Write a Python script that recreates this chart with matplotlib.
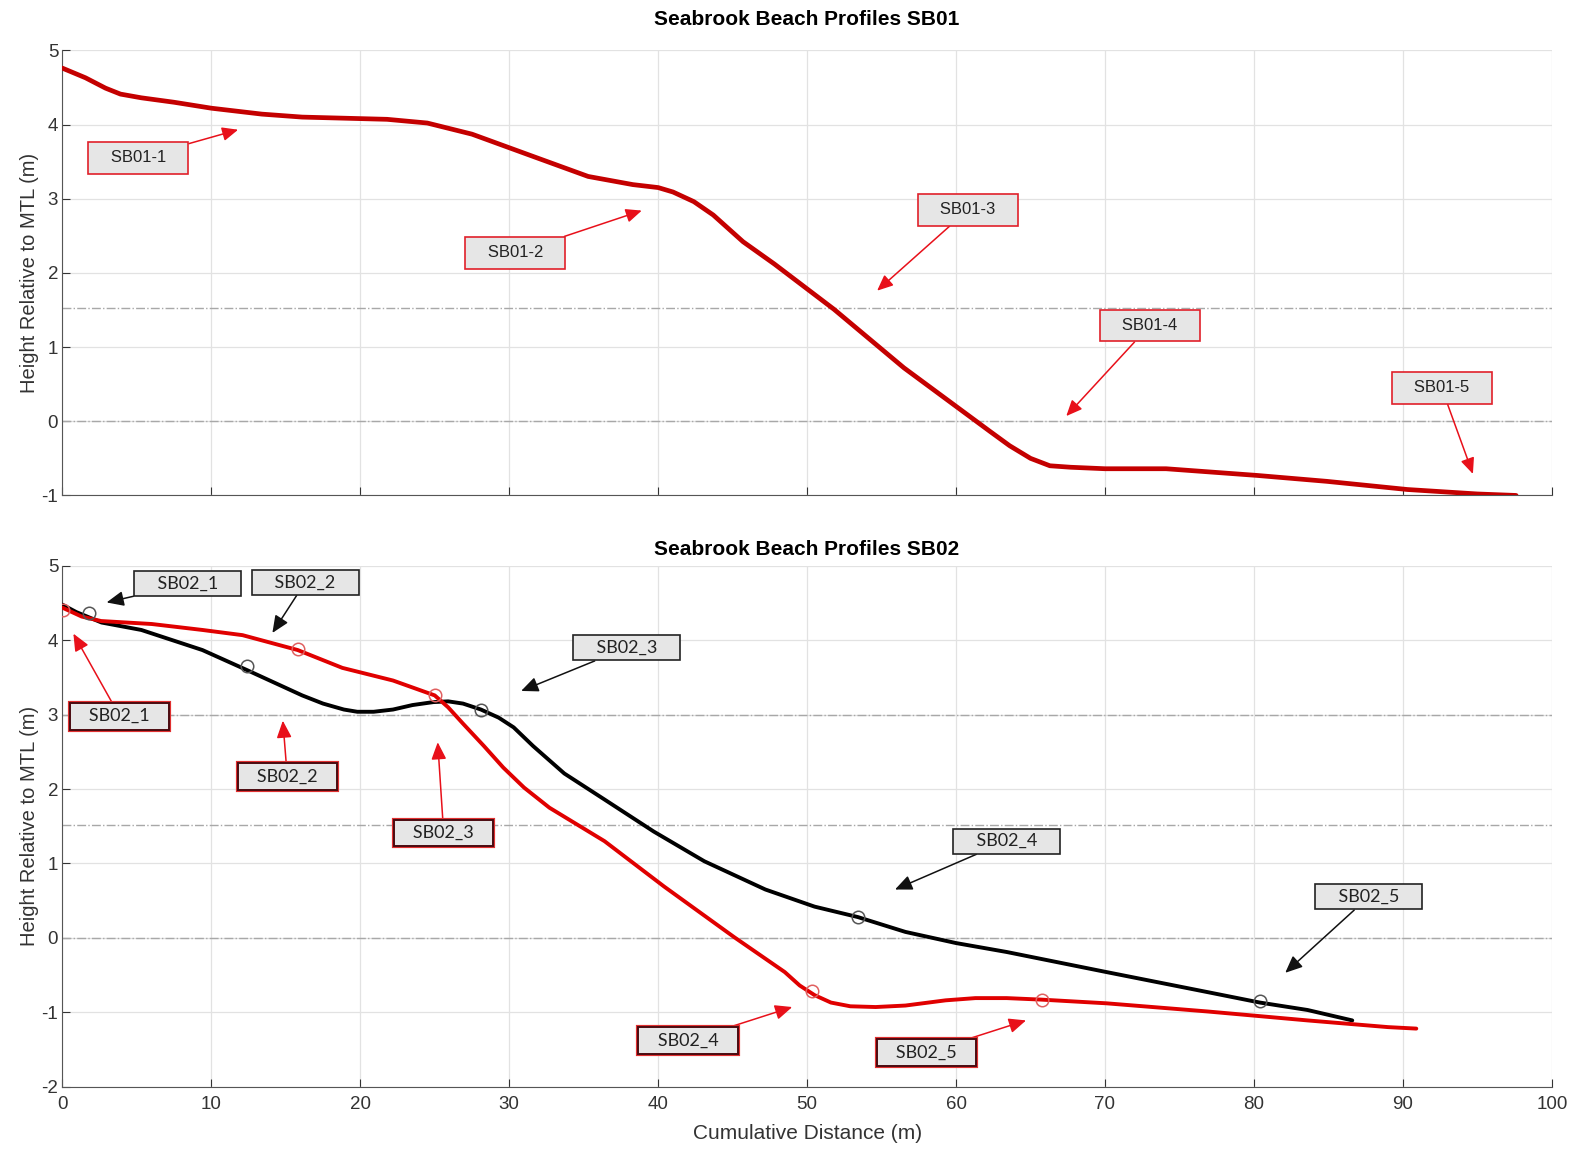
import matplotlib
matplotlib.use("Agg")
import matplotlib.pyplot as plt
import matplotlib.patheffects as pe

# --- SB01 profile (top panel) ---
sb01_x = [0, 1.55, 2.9, 3.9, 5.3, 7.5, 10, 13.4, 16.1, 21.8, 24.5, 27.5, 31.6, 35.3, 38.3, 40, 41,
          42.4, 43.7, 45.7, 47.8, 51.8, 56.5, 62.3, 63.6, 65.0, 66.3, 67.7, 70, 74.1, 80.2,
          84.9, 90.3, 95, 97.6]
sb01_y = [4.76, 4.63, 4.49, 4.41, 4.36, 4.30, 4.22, 4.14, 4.10, 4.07, 4.02, 3.87, 3.57, 3.30, 3.19,
          3.15, 3.09, 2.96, 2.78, 2.42, 2.12, 1.51, 0.72, -0.14, -0.33, -0.50, -0.60, -0.62, -0.64,
          -0.64, -0.73, -0.81, -0.92, -0.98, -1.0]

sb01_labels = ["SB01-1", "SB01-2", "SB01-3", "SB01-4", "SB01-5"]
sb01_box = [(5.1, 3.55), (30.4, 2.27), (60.8, 2.85), (73.0, 1.29), (92.6, 0.45)]
sb01_tip = [(11.8, 3.93), (38.9, 2.84), (54.7, 1.76), (67.4, 0.07), (94.7, -0.71)]

# --- SB02 profiles (bottom panel) ---
black_x = [0, 0.94, 2.63, 5.3, 9.4, 12.4, 16.1, 17.5, 18.9, 19.8, 20.9, 22.2, 23.5, 24.9, 25.9,
           26.9, 28.1, 29.3, 30.3, 31.6, 33.7, 36.4, 39.7, 43.1, 47.2, 50.5, 53.4, 56.6, 60,
           63.4, 70.1, 76.9, 80.4, 83.6, 86.6]
black_y = [4.48, 4.38, 4.24, 4.14, 3.87, 3.60, 3.26, 3.15, 3.07, 3.04, 3.04, 3.07, 3.13, 3.17, 3.18,
           3.15, 3.07, 2.96, 2.83, 2.58, 2.21, 1.86, 1.43, 1.03, 0.65, 0.42, 0.28, 0.08, -0.07,
           -0.19, -0.46, -0.73, -0.87, -0.97, -1.11]
black_mx = [1.8, 12.4, 28.1, 53.4, 80.4]
black_my = [4.37, 3.65, 3.07, 0.28, -0.85]

red_x = [0, 1.3, 2.6, 6, 9.4, 12.1, 15.8, 18.8, 22.2, 25, 25.9, 26.9, 28.3, 29.6, 31.0, 32.7,
         36.4, 40.4, 45.1, 48.5, 49.5, 50.5, 51.6, 52.9, 54.6, 56.6, 59.3, 61.3, 63.4, 65.7,
         70.1, 76.9, 83.6, 89, 90.9]
red_y = [4.44, 4.32, 4.26, 4.22, 4.14, 4.07, 3.87, 3.63, 3.46, 3.26, 3.10, 2.88, 2.58, 2.29, 2.02,
         1.75, 1.30, 0.69, 0.01, -0.46, -0.64, -0.77, -0.87, -0.92, -0.93, -0.91, -0.84, -0.81,
         -0.81, -0.83, -0.88, -0.99, -1.11, -1.20, -1.22]
red_mx = [0.07, 15.8, 25.0, 50.3, 65.8]
red_my = [4.41, 3.88, 3.26, -0.72, -0.83]

sb02_labels = ["SB02_1", "SB02_2", "SB02_3", "SB02_4", "SB02_5"]
black_box = [(8.4, 4.76), (16.3, 4.78), (37.9, 3.90), (63.4, 1.30), (87.7, 0.55)]
black_tip = [(2.97, 4.51), (14.1, 4.10), (30.8, 3.32), (55.9, 0.65), (82.1, -0.47)]
red_box = [(3.85, 2.98), (15.1, 2.17), (25.6, 1.41), (42.0, -1.38), (58.0, -1.54)]
red_tip = [(0.74, 4.09), (14.8, 2.92), (25.2, 2.63), (49.0, -0.93), (64.7, -1.11)]

ref_levels_top = [1.52, 0.0]
ref_levels_bot = [3.0, 1.52, 0.0]

plt.rcParams["font.family"] = ["Liberation Sans", "DejaVu Sans"]
plt.rcParams["axes.unicode_minus"] = False

fig = plt.figure(figsize=(15.79, 11.49), dpi=100)
ax1 = fig.add_axes([0.0395, 0.5688, 0.9433, 0.3874])
ax2 = fig.add_axes([0.0395, 0.0543, 0.9433, 0.4531])


def style_axes(ax, ymin, show_xlabels):
    ax.set_xlim(0, 100)
    ax.set_ylim(ymin, 5)
    ax.set_xticks(range(0, 101, 10))
    ax.set_yticks(range(ymin, 6))
    ax.grid(True, color="#e2e2e2", linewidth=0.9)
    ax.set_axisbelow(True)
    for s in ("top", "right"):
        ax.spines[s].set_visible(False)
    for s in ("left", "bottom"):
        ax.spines[s].set_color("#555555")
    ax.tick_params(direction="in", length=6, colors="#333333", labelsize=13.5)
    ax.tick_params(axis="x", pad=7)
    ax.tick_params(axis="y", pad=3)
    if not show_xlabels:
        ax.tick_params(axis="x", labelbottom=False)
    ax.set_ylabel("Height Relative to MTL (m)", fontsize=14.5, color="#333333", labelpad=2)


def annotate(ax, text, box, tip, edge, arrow_color, family, size, pad, lw=1.2):
    return ax.annotate(text, xy=tip, xytext=box, ha="center", va="center",
                       fontsize=size, family=family, color="#222222",
                       bbox=dict(boxstyle=f"square,pad={pad}", fc="#e6e6e6", ec=edge, lw=lw),
                       arrowprops=dict(arrowstyle="-|>,head_length=0.8,head_width=0.35",
                                       color=arrow_color, lw=1.1, shrinkA=0, shrinkB=0))


# top panel
style_axes(ax1, -1, False)
for lvl in ref_levels_top:
    ax1.axhline(lvl, color="#a8a8a8", linestyle="-.", linewidth=1.0, zorder=1)
ax1.plot(sb01_x, sb01_y, color="#c40000", linewidth=3.4, zorder=3,
         solid_joinstyle="round", solid_capstyle="round")
for t, b, p in zip(sb01_labels, sb01_box, sb01_tip):
    annotate(ax1, "   " + t + "   ", b, p, "#e0202a", "#e8101a", ["Liberation Sans"], 12, 0.5)
ax1.set_title("Seabrook Beach Profiles SB01", fontsize=15, fontweight="bold", pad=18)

# bottom panel
style_axes(ax2, -2, True)
for lvl in ref_levels_bot:
    ax2.axhline(lvl, color="#a8a8a8", linestyle="-.", linewidth=1.0, zorder=1)
ax2.plot(black_x, black_y, color="black", linewidth=2.8, zorder=3,
         solid_joinstyle="round", solid_capstyle="round")
ax2.plot(red_x, red_y, color="#e00000", linewidth=2.8, zorder=4,
         solid_joinstyle="round", solid_capstyle="round")
ax2.plot(black_mx, black_my, linestyle="none", marker="o", markersize=9,
         markerfacecolor="none", markeredgecolor="#555555", markeredgewidth=1.1, zorder=5)
ax2.plot(red_mx, red_my, linestyle="none", marker="o", markersize=9,
         markerfacecolor="none", markeredgecolor="#e06060", markeredgewidth=1.1, zorder=5)
for t, b, p in zip(sb02_labels, black_box, black_tip):
    annotate(ax2, "    " + t + "    ", b, p, "#222222", "#111111", ["Lato", "DejaVu Sans"], 13, 0.25)
for t, b, p in zip(sb02_labels, red_box, red_tip):
    a = annotate(ax2, "   " + t + "   ", b, p, "#4a0a10", "#e8101a", ["Lato", "DejaVu Sans"], 13,
                 0.3, lw=1.4)
    a.get_bbox_patch().set_path_effects([pe.Stroke(linewidth=3.0, foreground="#e03030"), pe.Normal()])
ax2.set_title("Seabrook Beach Profiles SB02", fontsize=15, fontweight="bold", pad=8)
ax2.set_xlabel("Cumulative Distance (m)", fontsize=15, color="#333333", labelpad=8)

fig.savefig("out.png", dpi=100)
